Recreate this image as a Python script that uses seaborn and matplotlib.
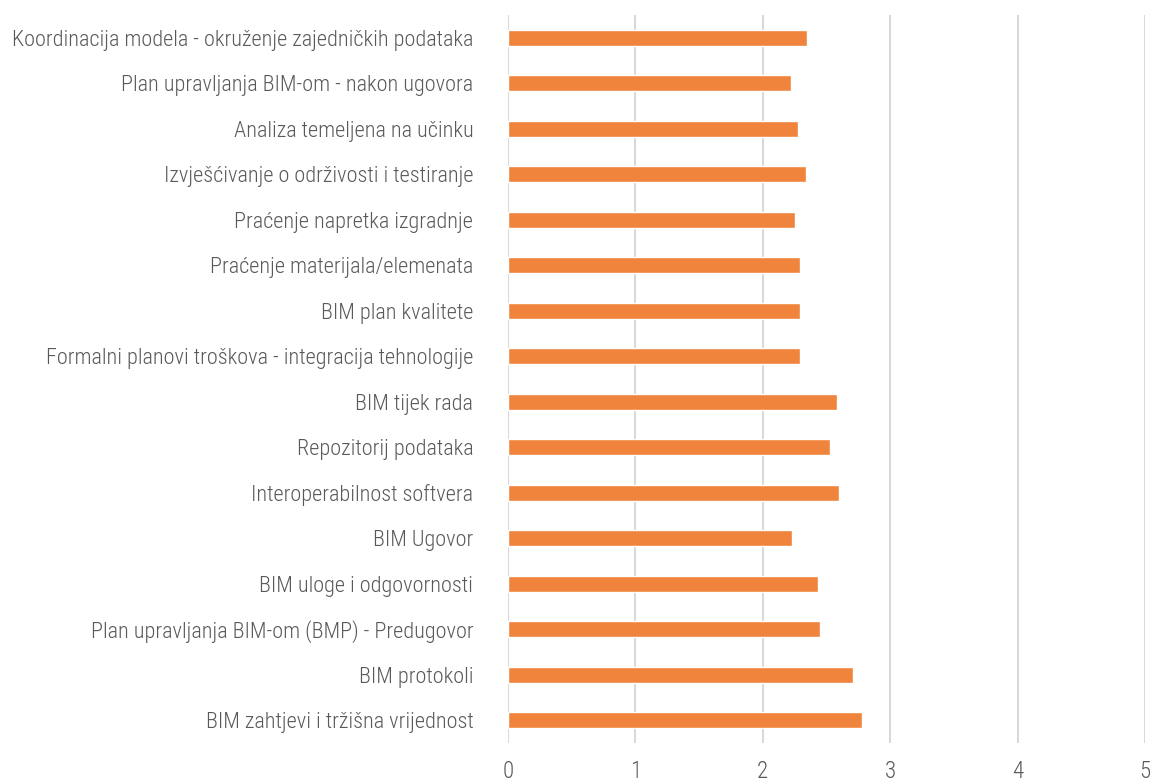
import matplotlib
matplotlib.use("Agg")
import matplotlib.pyplot as plt
from matplotlib import font_manager
import seaborn as sns
import pandas as pd

categories = [
    "Koordinacija modela - okruženje zajedničkih podataka",
    "Plan upravljanja BIM-om - nakon ugovora",
    "Analiza temeljena na učinku",
    "Izvješćivanje o održivosti i testiranje",
    "Praćenje napretka izgradnje",
    "Praćenje materijala/elemenata",
    "BIM plan kvalitete",
    "Formalni planovi troškova - integracija tehnologije",
    "BIM tijek rada",
    "Repozitorij podataka",
    "Interoperabilnost softvera",
    "BIM Ugovor",
    "BIM uloge i odgovornosti",
    "Plan upravljanja BIM-om (BMP) - Predugovor",
    "BIM protokoli",
    "BIM zahtjevi i tržišna vrijednost",
]
values = [2.35, 2.22, 2.28, 2.34, 2.25, 2.29, 2.29, 2.29,
          2.58, 2.53, 2.60, 2.23, 2.43, 2.45, 2.71, 2.78]
x_ticks = [0, 1, 2, 3, 4, 5]

BAR_COLOR = "#F0843C"
TEXT_COLOR = "#595959"
GRID_COLOR = "#D9D9D9"

sns.set_theme(style="white")

installed = {f.name for f in font_manager.fontManager.ttflist}
family = "DejaVu Sans"
for cand in ["Roboto Condensed", "Liberation Sans Narrow", "Open Sans Condensed", "Roboto"]:
    if cand in installed:
        family = cand
        break
plt.rcParams["font.family"] = [family, "DejaVu Sans"]
plt.rcParams["font.weight"] = "light"

df = pd.DataFrame({"category": categories, "value": values})

fig = plt.figure(figsize=(11.52, 7.83), dpi=100)
ax = fig.add_axes([508 / 1152, 1 - 743 / 783, (1145 - 508) / 1152, (743 - 15) / 783])

sns.barplot(data=df, y="category", x="value", orient="h", color=BAR_COLOR,
            width=0.35, saturation=1, ax=ax, zorder=3)

ax.set_xlim(0, 5)
ax.set_xticks(x_ticks)
ax.set_xticklabels([str(t) for t in x_ticks])
ax.set_xlabel("")
ax.set_ylabel("")
ax.xaxis.grid(True, color=GRID_COLOR, linewidth=1.5, zorder=0)
ax.yaxis.grid(False)
for s in ax.spines.values():
    s.set_visible(False)

ax.tick_params(axis="y", length=0, pad=25, labelsize=16, labelcolor=TEXT_COLOR)
ax.tick_params(axis="x", length=0, pad=12, labelsize=16.5, labelcolor=TEXT_COLOR)
for lbl in ax.get_xticklabels() + ax.get_yticklabels():
    lbl.set_fontweight("light")

fig.savefig("out.png", dpi=100, facecolor="white")
